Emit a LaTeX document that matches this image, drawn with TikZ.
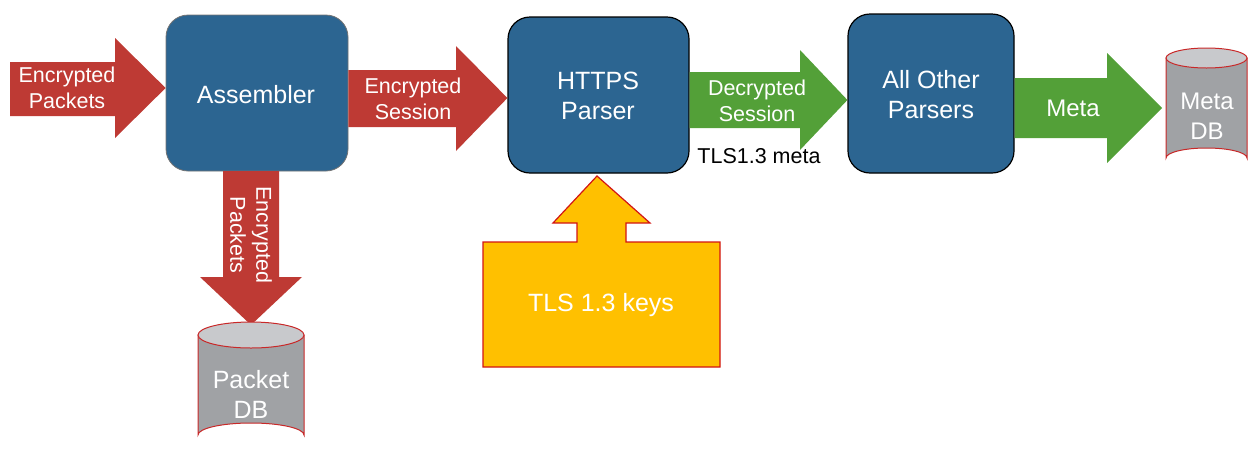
\documentclass[tikz,border=0pt]{standalone}
\usepackage{fontspec}
\setmainfont{Liberation Sans}
\begin{document}
\begin{tikzpicture}[x=1pt,y=-1pt,
  boxblue/.style={fill={rgb,255:red,44;green,101;blue,145}},
  box/.style={boxblue,rounded corners=22pt,minimum width=#1,inner sep=0pt},
  lbl/.style={font=\fontsize{21.5}{26}\selectfont,text=white,align=center,inner sep=0pt},
  big/.style={font=\fontsize{25}{30}\selectfont,text=white,align=center,inner sep=0pt},
  redarrow/.style={fill={rgb,255:red,190;green,58;blue,52}},
  greenarrow/.style={fill={rgb,255:red,83;green,160;blue,56}},
  cylbody/.style={fill={rgb,255:red,160;green,162;blue,165},draw={rgb,255:red,200;green,40;blue,40},line width=1pt},
  cyltop/.style={fill={rgb,255:red,200;green,201;blue,204},draw={rgb,255:red,200;green,40;blue,40},line width=1pt}]
\useasboundingbox (0,0) rectangle (1249,448);
\clip (0,0) rectangle (1249,448);

% boxes
\node[box, draw=black!55, line width=0.8pt, minimum width=182pt, minimum height=156pt] (asm) at (257,93) {};
\node[box, draw=black, line width=1.2pt, minimum width=181pt, minimum height=156pt] (https) at (598.5,95) {};
\node[box, draw=black, line width=1.2pt, minimum width=166pt, minimum height=159pt] (other) at (931,93.5) {};
\node[big] (asmt) at (256,95) {Assembler};
\node[big] (httpst) at (598,96) {HTTPS\\Parser};
\node[big] (othert) at (931,95) {All Other\\Parsers};

% arrow 1: encrypted packets in
\fill[redarrow] (10,62) -- (115,62) -- (115,38) -- (asm.west |- 0,88) -- (115,138) -- (115,116) -- (10,116) -- cycle;
\node[lbl] (a1) at (67,88) {Encrypted\\Packets};

% arrow 2: encrypted session
\fill[redarrow] (asm.east |- 0,70) -- (456,70) -- (456,46) -- (https.west |- 0,98) -- (456,151) -- (456,127) -- (asm.east |- 0,127) -- cycle;
\node[lbl] (a2) at (413,99) {Encrypted\\Session};

% arrow 3: decrypted session
\fill[greenarrow] (https.east |- 0,72) -- (800,72) -- (800,50) -- (other.west |- 0,100) -- (800,150) -- (800,128) -- (https.east |- 0,128) -- cycle;
\node[lbl] (a3) at (757,101) {Decrypted\\Session};
\node[font=\fontsize{21.5}{26}\selectfont,inner sep=0pt] (tlsmeta) at (759,156) {TLS1.3 meta};

% arrow 4: meta
\fill[greenarrow] (other.east |- 0,78) -- (1107,78) -- (1107,53) -- (1162,108) -- (1107,163) -- (1107,138) -- (other.east |- 0,138) -- cycle;
\node[font=\fontsize{24}{28}\selectfont,text=white,inner sep=0pt] (a4) at (1073,108) {Meta};

% Meta DB cylinder
\path[cylbody] (1166,58) -- (1166,158) arc[start angle=180,end angle=360,x radius=40.5,y radius=10] -- (1247,58) -- cycle;
\path[cyltop] (1206.5,58) ellipse[x radius=40.5,y radius=10];
\node[font=\fontsize{24}{30}\selectfont,text=white,align=center,inner sep=0pt] (metadb) at (1207,116) {Meta\\DB};

% down arrow: encrypted packets to packet DB
\fill[redarrow] (223,171) -- (279,171) -- (279,277) -- (302,277) -- (251,325) -- (200,277) -- (223,277) -- cycle;
\node[lbl, rotate=-90] (a5) at (251,235) {Encrypted\\Packets};

% Packet DB cylinder
\path[cylbody] (198,335) -- (198,435) arc[start angle=180,end angle=360,x radius=53,y radius=12] -- (304,335) -- cycle;
\path[cyltop] (251,335) ellipse[x radius=53,y radius=13];
\node[big] (pdb) at (251,394) {Packet\\DB};

% TLS keys callout
\path[fill={rgb,255:red,255;green,192;blue,0},draw={rgb,255:red,210;green,20;blue,20},line width=1.2pt]
  (483,242) -- (577,242) -- (577,223) -- (553,223) -- (597,176) -- (650,223) -- (626,223) -- (626,242) -- (720,242) -- (720,367) -- (483,367) -- cycle;
\node[big] (keys) at (601,305) {TLS 1.3 keys};
\end{tikzpicture}
\end{document}
